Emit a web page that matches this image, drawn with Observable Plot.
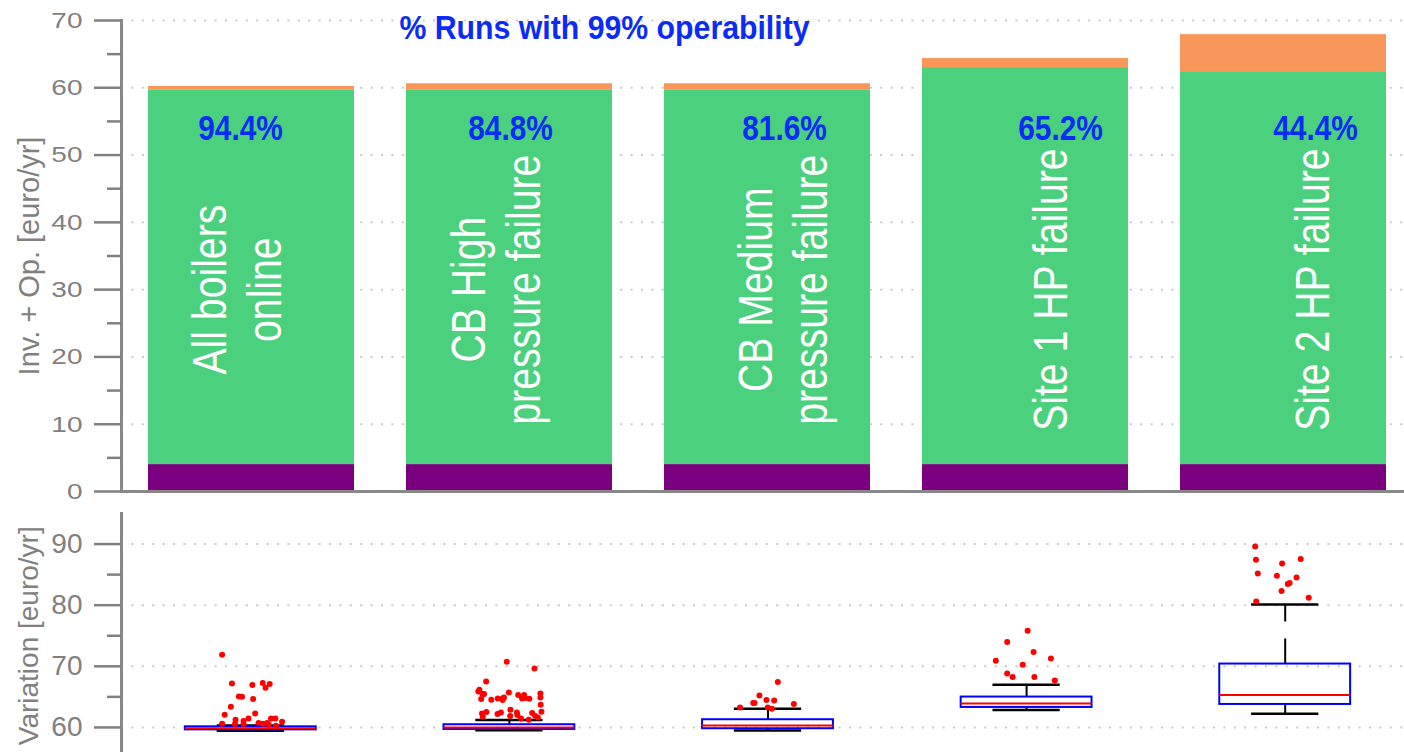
<!DOCTYPE html>
<html><head><meta charset="utf-8">
<script src="https://cdn.jsdelivr.net/npm/d3@7"></script>
<script src="https://cdn.jsdelivr.net/npm/@observablehq/plot@0.6"></script>
<style>
html,body{margin:0;padding:0;background:#fff;overflow:hidden;width:1404px;height:752px;}
#chart{width:1414px;}
#chart svg{display:block;max-width:none !important;}
</style></head><body><div id="chart"></div>
<script>
// ---------- data ----------
const scenarios = ["All boilers online","CB High pressure failure","CB Medium pressure failure","Site 1 HP failure","Site 2 HP failure"];
const scenarioLabels = ["All boilers\nonline","CB High\npressure failure","CB Medium\npressure failure","Site 1 HP failure","Site 2 HP failure"];
const investmentCost = [4.0, 4.0, 4.0, 4.0, 4.0];
const operatingCost = [55.7, 55.7, 55.7, 59.0, 58.4];
const penaltyCost = [0.5, 0.9, 0.9, 1.35, 5.5];
const operabilityPct = ["94.4%","84.8%","81.6%","65.2%","44.4%"];
const titleText = "% Runs with 99% operability";
const yLabelTop = "Inv. + Op. [euro/yr]";
const yLabelBottom = "Variation [euro/yr]";
const yTicksTop = [0,10,20,30,40,50,60,70];
const yMinorTop = [5,15,25,35,45,55,65];
const yTicksBottom = [60,70,80,90];
const yMinorBottom = [65,75,85];
const boxQ1 = [59.6, 59.67, 59.79, 63.27, 63.76];
const boxMedian = [59.85, 60.0, 60.33, 63.93, 65.3];
const boxQ3 = [60.1, 60.44, 61.26, 64.97, 70.37];
const whiskerLow = [59.45, 59.55, 59.5, 62.85, 62.24];
const whiskerHigh = [60.3, 61.2, 63.06, 66.99, 80.12];
const outlierValues = [
  [71.89,67.20,66.94,67.26,67.10,66.49,65.07,65.02,64.65,63.39,62.08,62.29,61.47,61.26,61.05,61.47,61.47,60.93,60.61,60.56,60.56,60.72,60.61,60.72,60.49,60.28],
  [70.75,69.65,67.52,66.17,65.89,65.46,65.46,64.65,64.53,64.74,64.74,64.91,64.48,65.73,65.30,65.30,64.74,64.81,64.69,65.56,64.91,63.71,62.57,62.29,61.75,62.52,62.19,62.45,62.90,61.86,62.45,62.03,61.47,61.26,62.36,61.91,61.64],
  [67.43,65.23,63.99,63.99,64.48,64.42,63.83,63.27,63.27,63.06],
  [75.82,73.97,72.33,71.29,70.91,70.26,68.83,68.24,68.24,67.69],
  [89.61,87.43,87.55,86.83,85.19,84.82,84.54,83.62,83.46,82.31,81.22,80.61]
];
// horizontal jitter of each outlier (fraction of category step)
const outlierJitter = [
  [-0.111,-0.073,0.006,0.046,0.073,0.057,-0.046,-0.034,0.009,-0.077,-0.101,0.017,-0.009,-0.059,-0.028,0.078,0.095,0.121,-0.111,-0.061,-0.028,0.030,0.047,0.063,0.069,0.097],
  [-0.010,0.097,-0.090,-0.116,-0.120,-0.104,-0.098,-0.109,-0.070,-0.045,-0.026,-0.021,-0.026,-0.002,0.034,0.057,0.049,0.061,0.077,0.120,0.120,0.121,0.124,-0.106,-0.103,-0.089,-0.046,-0.033,0.004,0.003,0.029,0.031,0.045,0.075,0.088,0.099,0.110],
  [0.038,-0.033,-0.057,-0.052,-0.006,0.024,0.100,-0.108,-0.001,0.015],
  [0.004,-0.075,0.027,0.094,-0.119,-0.015,-0.075,-0.054,0.030,0.109],
  [-0.116,-0.113,0.060,-0.012,-0.106,-0.032,0.044,0.017,0.010,-0.014,0.091,-0.112]
];

// ---------- tables built from the arrays ----------
const parts = ["Investment","Operation","Penalty"];
const barRows = scenarios.flatMap((s, i) => [
  {scenario: s, part: "Investment", value: investmentCost[i]},
  {scenario: s, part: "Operation", value: operatingCost[i]},
  {scenario: s, part: "Penalty", value: penaltyCost[i]}
]);
const labelRows = scenarios.map((s, i) => ({scenario: s, label: scenarioLabels[i], pct: operabilityPct[i]}));
const stats = scenarios.map((s, i) => ({i, q1: boxQ1[i], median: boxMedian[i], q3: boxQ3[i], lo: whiskerLow[i], hi: whiskerHigh[i]}));
const outliers = outlierValues.flatMap((vals, i) => vals.map((v, k) => ({i, value: v, jitter: outlierJitter[i][k]})));

// ---------- style ----------
const W = 1414;
const FONT = "'Liberation Sans', Arial, Helvetica, sans-serif";
const GRAY = "#808080";
const AXIS = "#888888";
const GRID = {stroke: "#c9c9c9", strokeOpacity: 1, strokeWidth: 2, strokeDasharray: "2,8.4"};
const BLUE_TXT = "#0b2cf4";
const nameDx = [-16, -15, 14, 24, 28];
const pctDx = [-11, 1, 17, 35, 32];
const SVG_STYLE = {fontFamily: FONT, background: "#fff", overflow: "visible", maxWidth: "none"};

const topChart = Plot.plot({
  width: W, height: 500,
  marginLeft: 121, marginRight: 0, marginTop: 20, marginBottom: 9,
  style: SVG_STYLE,
  x: {type: "band", domain: scenarios, paddingInner: 0.2, paddingOuter: 0.1, axis: null},
  y: {domain: [0, 70], axis: null},
  color: {domain: parts, range: ["#7a007f", "#4bd07d", "#f9975b"]},
  marks: [
    Plot.gridY(yTicksTop.filter(d => d > 0), GRID),
    Plot.barY(barRows, {x: "scenario", y: "value", fill: "part", order: parts}),
    Plot.ruleY([0], {stroke: AXIS, strokeWidth: 3}),
    Plot.frame({anchor: "left", stroke: AXIS, strokeWidth: 3}),
    Plot.axisY({ticks: yTicksTop, tickSize: 27, tickPadding: 12, fontSize: 28, color: GRAY, strokeWidth: 2.5, label: null}),
    Plot.axisY({ticks: yMinorTop, tickSize: 14, tickFormat: () => "", color: GRAY, strokeWidth: 2.5, label: null}),
    Plot.text([yLabelTop], {frameAnchor: "left", rotate: -90, dx: -92, fontSize: 29, fill: GRAY, textAnchor: "middle", lineAnchor: "middle"}),
    Plot.text([titleText], {frameAnchor: "top", dx: -163.5, dy: -6, fontSize: 34, fontWeight: "bold", fill: BLUE_TXT, textAnchor: "middle", lineAnchor: "top"}),
    ...labelRows.map((r, i) => Plot.text([r], {x: "scenario", y: 30, text: "label", rotate: -90, dx: nameDx[i], fontSize: 49, lineHeight: 1.12, fill: "white", textAnchor: "middle", lineAnchor: "middle"})),
    ...labelRows.map((r, i) => Plot.text([r], {x: "scenario", y: 54, text: "pct", dx: pctDx[i], fontSize: 36, fontWeight: "bold", fill: BLUE_TXT, textAnchor: "middle", lineAnchor: "middle"}))
  ]
});

const bottomChart = Plot.plot({
  width: W, height: 270,
  marginLeft: 121, marginRight: 0, marginTop: 13, marginBottom: 12.5,
  style: SVG_STYLE,
  x: {domain: [-0.5, 4.5], axis: null},
  y: {domain: [55, 95], axis: null},
  marks: [
    Plot.gridY(yTicksBottom, GRID),
    Plot.frame({anchor: "left", stroke: AXIS, strokeWidth: 3}),
    Plot.axisY({ticks: yTicksBottom, tickSize: 27, tickPadding: 12, fontSize: 28, color: GRAY, strokeWidth: 2.5, label: null}),
    Plot.axisY({ticks: yMinorBottom, tickSize: 14, tickFormat: () => "", color: GRAY, strokeWidth: 2.5, label: null}),
    Plot.text([yLabelBottom], {frameAnchor: "left", rotate: -90, dx: -92, fontSize: 28, fill: GRAY, textAnchor: "middle", lineAnchor: "middle"}),
    Plot.ruleX(stats, {x: "i", y1: "q3", y2: "hi", stroke: "black", strokeWidth: 2, strokeDasharray: "25,17"}),
    Plot.ruleX(stats, {x: "i", y1: "q1", y2: "lo", stroke: "black", strokeWidth: 2, strokeDasharray: "25,17"}),
    Plot.ruleY(stats, {x1: d => d.i - 0.13, x2: d => d.i + 0.13, y: "hi", stroke: "black", strokeWidth: 2.5}),
    Plot.ruleY(stats, {x1: d => d.i - 0.13, x2: d => d.i + 0.13, y: "lo", stroke: "black", strokeWidth: 2.5}),
    Plot.rect(stats, {x1: d => d.i - 0.253, x2: d => d.i + 0.253, y1: "q1", y2: "q3", fill: "none", stroke: "#0000ff", strokeWidth: 2}),
    Plot.ruleY(stats, {x1: d => d.i - 0.253, x2: d => d.i + 0.253, y: "median", stroke: "#ff0000", strokeWidth: 2}),
    Plot.dot(outliers, {x: d => d.i + d.jitter, y: "value", r: 3, fill: "#ff0000", stroke: "none"})
  ]
});

// condense / stretch text glyphs along their writing direction to match the reference fonts
function squish(svg, selector, sx, sy) {
  svg.querySelectorAll(selector).forEach(t => {
    const tr = t.getAttribute("transform") || "";
    t.setAttribute("transform", `${tr} scale(${sx},${sy})`);
  });
}
squish(topChart, 'g[aria-label="y-axis tick label"] text', 1, 0.82);
squish(topChart, 'g[aria-label="text"][font-size="49"] text', 0.8, 1);
squish(topChart, 'g[aria-label="text"][font-size="36"] text', 0.83, 1);
squish(topChart, 'g[aria-label="text"][font-size="34"] text', 0.89, 1);

const chart = document.getElementById("chart");
chart.appendChild(topChart);
chart.appendChild(bottomChart);
</script>
</body></html>
